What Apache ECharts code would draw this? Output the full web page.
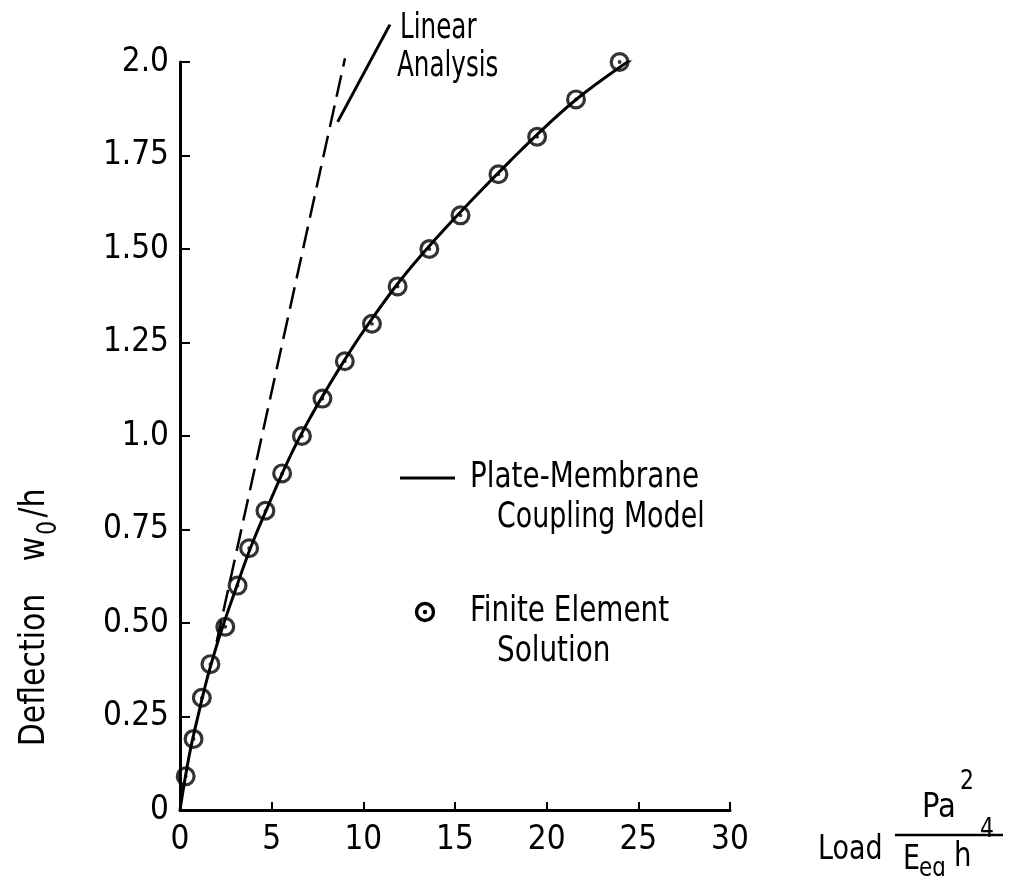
<!DOCTYPE html>
<html>
<head>
<meta charset="utf-8">
<script src="https://cdn.jsdelivr.net/npm/echarts@6/dist/echarts.min.js"></script>
<style>
  html, body { margin: 0; background: #fff; }
  #chart { width: 1010px; height: 876px; }
</style>
</head>
<body>
<div id="chart"></div>
<script>
// lecturas de la figura: carga Pa^2/(Eeq h^4) vs deflexion w0/h
const feLoad = [0.31, 0.74, 1.19, 1.66, 2.47, 3.14, 3.77, 4.66, 5.57, 6.65, 7.77, 8.99, 10.47, 11.87, 13.6, 15.3, 17.37, 19.48, 21.6, 23.98];
const feDefl = [0.09, 0.19, 0.30, 0.39, 0.49, 0.60, 0.70, 0.80, 0.90, 1.00, 1.10, 1.20, 1.30, 1.40, 1.50, 1.59, 1.70, 1.80, 1.90, 2.00];

const modelLoad = [0, 0.5, 1, 1.5, 2, 2.5, 3, 3.5, 4, 5, 6, 7, 8, 9, 10, 12, 14, 16, 18, 20, 22, 25];
const modelDefl = [0, 0.145, 0.255, 0.355, 0.44, 0.515, 0.585, 0.655, 0.72, 0.835, 0.945, 1.04, 1.125, 1.205, 1.28, 1.415, 1.53, 1.635, 1.735, 1.83, 1.915, 2.02];

const linearLoad = [2.0, 9.0];
const linearDefl = [0.45, 2.01];

// trazo que señala la etiqueta "Linear Analysis"
const leaderLoad = [8.6, 11.45];
const leaderDefl = [1.84, 2.10];

const xTicks = [0, 5, 10, 15, 20, 25, 30];
const yTickLabels = ['0', '0.25', '0.50', '0.75', '1.0', '1.25', '1.50', '1.75', '2.0'];

const FONT = "'Liberation Sans Narrow', 'DejaVu Sans Condensed', sans-serif";
const zip = (a, b) => a.map((v, i) => [v, b[i]]);

// circulo con punto central
const dotCircle = 'path://M0,-10A10,10 0 1,1 0,10A10,10 0 1,1 0,-10Z' +
  'M0,-6.8A6.8,6.8 0 1,0 0,6.8A6.8,6.8 0 1,0 0,-6.8Z' +
  'M0,-1.9A1.9,1.9 0 1,1 0,1.9A1.9,1.9 0 1,1 0,-1.9Z';

function txt(text, x, y, size, sx, rot, align) {
  const el = {
    type: 'text', x: x, y: y, scaleX: sx || 1,
    style: { text: text, fontSize: size, fontFamily: FONT, fill: '#000', align: align || 'left', verticalAlign: 'middle' }
  };
  if (rot) el.rotation = rot;
  return el;
}
const R = Math.PI / 2;

const option = {
  animation: false,
  backgroundColor: '#fff',
  grid: { left: 180, right: 280, top: 62, bottom: 66 },
  xAxis: {
    type: 'value', min: xTicks[0], max: xTicks[xTicks.length - 1], interval: 5,
    axisLine: { lineStyle: { color: '#000', width: 3 } },
    axisTick: { inside: true, length: 8, lineStyle: { color: '#000', width: 2 } },
    axisLabel: { color: '#000', fontFamily: FONT, fontSize: 33, margin: 14 },
    splitLine: { show: false }
  },
  yAxis: {
    type: 'value', min: 0, max: 2, interval: 0.25,
    axisLine: { show: true, lineStyle: { color: '#000', width: 3 } },
    axisTick: { show: true, inside: true, length: 10, lineStyle: { color: '#000', width: 2 } },
    axisLabel: {
      color: '#000', fontFamily: FONT, fontSize: 33, margin: 11,
      formatter: v => yTickLabels[Math.round(v / 0.25)]
    },
    splitLine: { show: false }
  },
  series: [
    {
      name: 'Plate-Membrane Coupling Model', type: 'line', data: zip(modelLoad, modelDefl),
      showSymbol: false, symbol: 'none', smooth: 0.4,
      lineStyle: { color: '#000', width: 3 }, z: 3
    },
    {
      name: 'Linear Analysis', type: 'line', data: zip(linearLoad, linearDefl),
      symbol: 'none', clip: false,
      lineStyle: { color: '#000', width: 2.5, type: [22, 9] }, z: 2
    },
    {
      name: 'leader', type: 'line', data: zip(leaderLoad, leaderDefl),
      symbol: 'none', clip: false,
      lineStyle: { color: '#000', width: 3 }, z: 2
    },
    {
      name: 'Finite Element Solution', type: 'scatter', data: zip(feLoad, feDefl),
      symbol: dotCircle, symbolSize: 20,
      itemStyle: { color: '#000' }, z: 4
    }
  ],
  graphic: [
    txt('Linear', 400, 29, 36, 0.76),
    txt('Analysis', 397, 67, 36, 0.76),

    { type: 'line', shape: { x1: 400, y1: 478, x2: 455, y2: 478 }, style: { stroke: '#000', lineWidth: 3 } },
    txt('Plate-Membrane', 470, 478, 36, 0.86),
    txt('Coupling Model', 497, 518, 36, 0.83),
    { type: 'circle', shape: { cx: 425, cy: 612, r: 8.5 }, style: { fill: 'none', stroke: '#000', lineWidth: 3.4 } },
    { type: 'circle', shape: { cx: 425, cy: 612, r: 2.2 }, style: { fill: '#000' } },
    txt('Finite Element', 470, 612, 36, 0.86),
    txt('Solution', 497, 652, 36, 0.86),

    // eje y: Deflection w0/h
    txt('Deflection', 35, 670, 35, 0.95, R, 'center'),
    txt('w', 35, 549, 35, 0.95, R, 'center'),
    txt('0', 49, 528, 26, 0.95, R, 'center'),
    txt('/h', 35, 503, 35, 0.95, R, 'center'),

    // eje x: Load Pa^2 / Eeq h^4
    txt('Load', 818, 850, 34, 0.88),
    { type: 'line', shape: { x1: 895, y1: 835, x2: 1003, y2: 835 }, style: { stroke: '#000', lineWidth: 2.5 } },
    txt('Pa', 922, 808, 34, 0.95),
    txt('2', 960, 782, 27, 0.9),
    txt('E', 903, 860, 34, 0.88),
    txt('eq', 919, 869, 27, 0.88),
    txt('h', 954, 857, 34, 0.9),
    txt('4', 980, 830, 27, 0.9)
  ]
};

const chart = echarts.init(document.getElementById('chart'), null, { renderer: 'canvas' });
chart.setOption(option);
window.addEventListener('resize', () => chart.resize());
</script>
</body>
</html>
